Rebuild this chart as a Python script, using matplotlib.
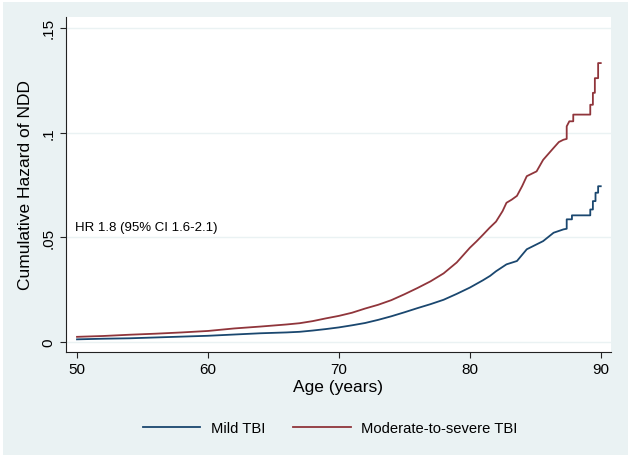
import matplotlib
matplotlib.use("Agg")
from matplotlib import pyplot as plt
from matplotlib.patches import Rectangle

plt.rcParams['font.family'] = ['Liberation Sans', 'DejaVu Sans']

# values (age, cumulative hazard)
mild_age = [50, 52, 54, 56, 58, 60, 62, 64, 66, 67, 68, 69, 70, 71, 72, 73, 74, 75,
            76, 77, 78, 79, 80, 81, 81.55, 82, 82.8, 83.6, 84.35, 85.6, 86.4, 87.15,
            87.4, 87.4, 87.8, 87.8, 89.2, 89.2, 89.4, 89.4, 89.6, 89.6, 89.8, 89.8, 90]
mild_haz = [.0013, .0016, .0018, .0022, .0026, .0030, .0036, .0042, .0046, .0049,
            .0055, .0062, .0070, .0080, .0091, .0106, .0123, .0142, .0162, .0181,
            .0202, .0230, .0260, .0295, .0316, .0338, .0371, .0387, .0443, .0482,
            .0522, .0538, .0541, .0586, .0586, .0605, .0605, .0633, .0633, .0673,
            .0673, .0713, .0713, .0744, .0744]

sev_age = [50, 52, 54, 56, 58, 60, 62, 64, 66, 67, 68, 69, 70, 71, 72, 73, 74, 75,
           76, 77, 78, 79, 80, 80.5, 81, 81.5, 82, 82.5, 82.8, 83.2, 83.6, 84, 84.35,
           85.1, 85.6, 86.4, 86.8, 87.15, 87.4, 87.4, 87.6, 87.9, 87.9, 89.2, 89.2,
           89.4, 89.4, 89.55, 89.55, 89.8, 89.8, 90]
sev_haz = [.0025, .0029, .0035, .0040, .0046, .0053, .0065, .0074, .0084, .0090,
           .0100, .0113, .0125, .0140, .0160, .0178, .0200, .0228, .0258, .0290,
           .0328, .0380, .0450, .0480, .0512, .0545, .0575, .0625, .0665, .0680,
           .0698, .0745, .0792, .0815, .0870, .0927, .0955, .0966, .0970, .1030,
           .1054, .1054, .1086, .1086, .1133, .1133, .1190, .1190, .1260, .1260,
           .1332, .1332]

x_ticks = [50, 60, 70, 80, 90]
y_ticks = [0, .05, .1, .15]
y_labels = ["0", ".05", ".1", ".15"]

bg = "#EAF2F3"
fig = plt.figure(figsize=(6.3, 4.6), dpi=100, facecolor="white")
fig.patches.append(Rectangle((3 / 630, 4 / 460), 625 / 630, 453 / 460,
                             transform=fig.transFigure, facecolor=bg,
                             edgecolor="none", zorder=-10))
ax = fig.add_axes([66 / 630, 107.3 / 460, 544.7 / 630, 334.7 / 460])
ax.set_facecolor("white")

ax.plot(mild_age, mild_haz, color="#1A476F", lw=1.3, label="Mild TBI")
ax.plot(sev_age, sev_haz, color="#90353B", lw=1.3, label="Moderate-to-severe TBI")

ax.set_xlim(49.16, 90.76)
ax.set_ylim(-0.0046, 0.1552)
ax.set_xticks(x_ticks)
ax.set_yticks(y_ticks)
ax.set_yticklabels(y_labels, rotation=90, va="center")
ax.grid(axis="y", color="#EAF2F3", lw=1)
ax.set_axisbelow(True)
for s in ["top", "right"]:
    ax.spines[s].set_visible(False)
for s in ["left", "bottom"]:
    ax.spines[s].set_color("#222222")
    ax.spines[s].set_linewidth(0.8)
ax.tick_params(length=4.5, width=0.8, color="#222222", labelsize=11, pad=3)
ax.set_xlabel("Age (years)", fontsize=12.5, labelpad=2)
ax.set_ylabel("Cumulative Hazard of NDD", fontsize=12.5, labelpad=6)

ax.text(49.85, 0.055, "HR 1.8 (95% CI 1.6-2.1)", fontsize=9.5, va="center")

fig.legend(loc="center", bbox_to_anchor=(0.524, 0.068), ncol=2, frameon=False,
           fontsize=10.6, handlelength=3.9, handletextpad=0.7, columnspacing=1.9)

fig.savefig("out.png", dpi=100, facecolor="white")
